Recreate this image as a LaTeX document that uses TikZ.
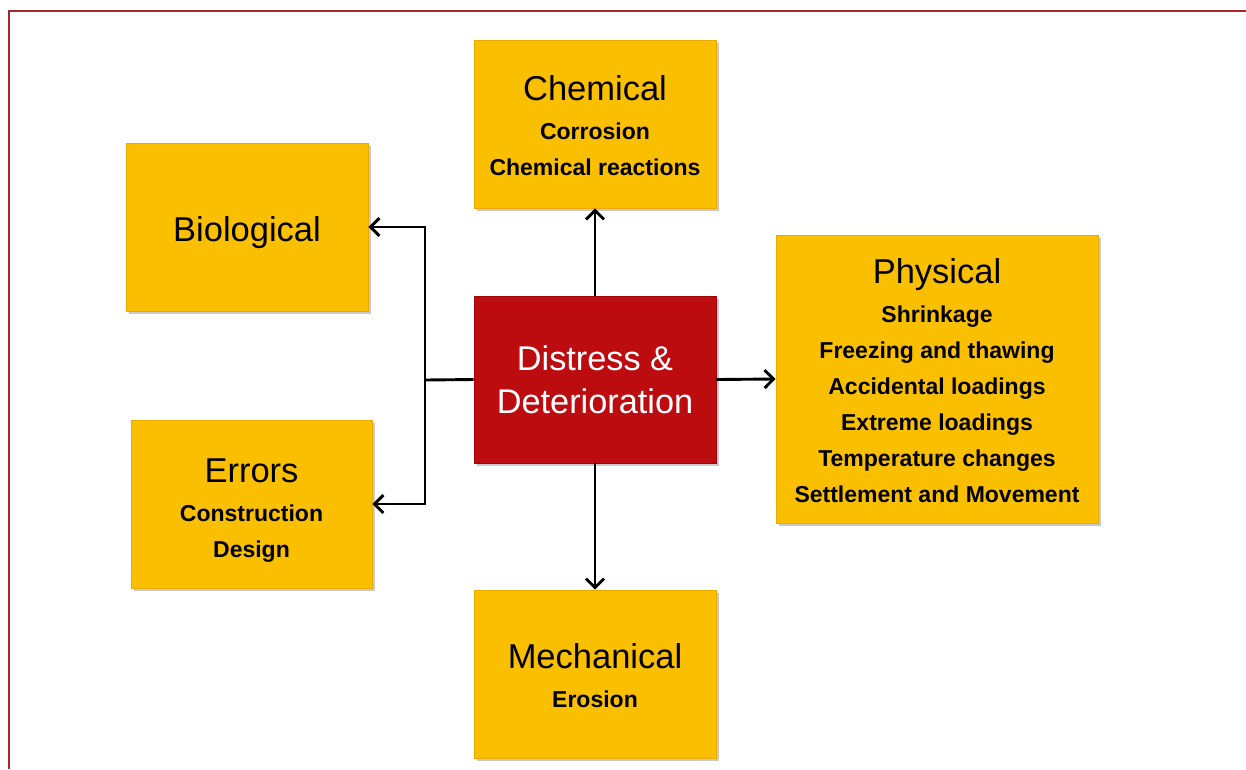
\documentclass[tikz,border=0pt]{standalone}
\usepackage{fontspec}
\setmainfont{Liberation Sans}
\usetikzlibrary{arrows.meta,shadows}
\definecolor{boxyellow}{RGB}{250,192,0}
\definecolor{boxedge}{RGB}{235,170,0}
\definecolor{boxred}{RGB}{188,12,16}
\definecolor{rededge}{RGB}{160,5,10}
\definecolor{frame}{RGB}{165,42,48}
\tikzset{
  ybox/.style={draw=boxedge, line width=0.8pt, fill=boxyellow, align=center,
    minimum width=242pt, minimum height=168pt, inner sep=0pt,
    font=\fontsize{23}{36}\selectfont\bfseries,
    drop shadow={shadow xshift=2.5pt, shadow yshift=-2.5pt, opacity=0.35, fill=black!60}},
  rbox/.style={draw=rededge, line width=0.8pt, fill=boxred, align=center, text=white,
    minimum width=242pt, minimum height=167pt, inner sep=0pt,
    font=\fontsize{34.3}{43}\selectfont,
    drop shadow={shadow xshift=2.5pt, shadow yshift=-2.5pt, opacity=0.35, fill=black!60}},
  conn/.style={line width=2.9pt, -{Straight Barb[length=9pt,width=18pt,line width=2.9pt]}},
  plain/.style={line width=2.9pt},
}
\newcommand{\ttlfont}{\fontsize{34.5}{36}\selectfont\mdseries}
\newcommand{\ttl}[2]{{\ttlfont\rule{0pt}{#2pt}#1}}
\begin{document}
\begin{tikzpicture}[x=1pt,y=-1pt]
\useasboundingbox (0,0) rectangle (1246,769);
\fill[white] (0,0) rectangle (1246,769);
% frame
\draw[frame, line width=2.2pt] (9,769) -- (9,11) -- (1246,11);

\node[ybox] (chem) at (595,124) {\ttl{Chemical}{29}\\[3pt]Corrosion\\Chemical reactions};
\node[ybox] (bio) at (247,227) {\ttl{Biological}{37}};
\node[ybox, minimum width=322pt, minimum height=288pt] (phys) at (937,379)
  {\ttl{Physical}{29}\\[3pt]Shrinkage\\Freezing and thawing\\Accidental loadings\\Extreme loadings\\Temperature changes\\Settlement and Movement};
\node[rbox] (dist) at (595,379.5) {Distress \&\\Deterioration};
\node[ybox, minimum width=241pt] (err) at (251.5,504) {\ttl{Errors}{36}\\[3pt]Construction\\Design};
\node[ybox] (mech) at (595,674) {\ttl{Mechanical}{29}\\[3pt]Erosion};

\coordinate (j) at (425,380);
\draw[conn] (dist.north) -- (chem.south);
\draw[conn] (dist.south) -- (mech.north);
\draw[conn] (dist.east) -- (phys.west);
\draw[plain] (dist.west) -- (j);
\draw[conn] (j) |- (bio.east);
\draw[conn] (j) |- (err.east);
\end{tikzpicture}
\end{document}
